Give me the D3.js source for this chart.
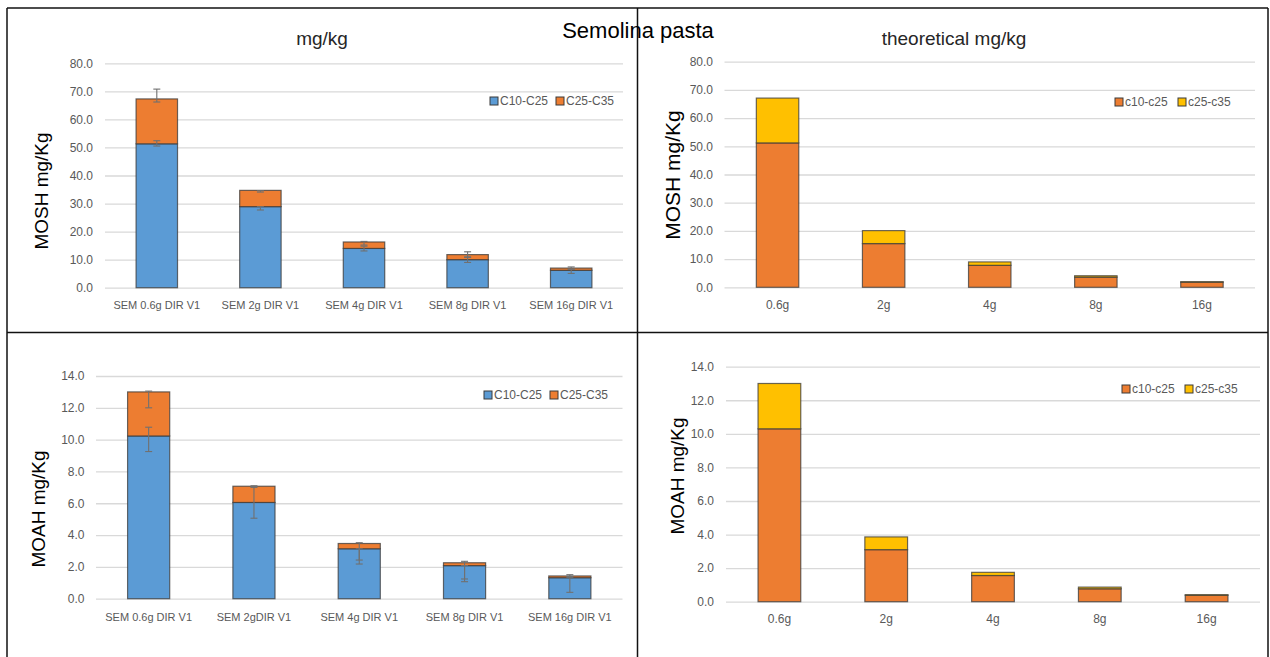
<!DOCTYPE html>
<html>
<head>
<meta charset="utf-8">
<script src="https://cdn.jsdelivr.net/npm/d3@7/dist/d3.min.js"></script>
<style>
  html, body { margin: 0; padding: 0; background: #fff; }
  svg { display: block; font-family: "Liberation Sans", Arial, sans-serif; }
</style>
</head>
<body>
<svg id="chart" width="1270" height="657"></svg>
<script>
// ---- Data -------------------------------------------------------------
const measuredMoshCategories = ["SEM 0.6g DIR V1", "SEM 2g DIR V1", "SEM 4g DIR V1", "SEM 8g DIR V1", "SEM 16g DIR V1"];
const measuredMoahCategories = ["SEM 0.6g DIR V1", "SEM 2gDIR V1", "SEM 4g DIR V1", "SEM 8g DIR V1", "SEM 16g DIR V1"];
const doseCategories = ["0.6g", "2g", "4g", "8g", "16g"];

const measuredSeries = ["C10-C25", "C25-C35"];
const theoreticalSeries = ["c10-c25", "c25-c35"];

// MOSH, measured (mg/kg)
const moshC10C25 = [51.3, 28.9, 14.0, 10.0, 6.2];
const moshC25C35 = [16.0, 5.8, 2.3, 1.8, 0.8];
// error whiskers [low, high] in mg/kg
const moshErrUpper = [[66.2, 70.8], [34.1, 34.6], [15.2, 16.5], [10.8, 12.8], [6.6, 7.4]];
const moshErrLower = [[50.5, 52.4], [27.7, 28.9], [13.1, 14.8], [9.0, 11.0], [5.1, 6.6]];

// MOSH, theoretical (mg/kg)
const moshTheoC10C25 = [51.2, 15.5, 7.8, 3.6, 1.8];
const moshTheoC25C35 = [15.9, 4.6, 1.2, 0.5, 0.2];

// MOAH, measured (mg/kg)
const moahC10C25 = [10.23, 6.05, 3.14, 2.08, 1.32];
const moahC25C35 = [2.77, 1.02, 0.33, 0.18, 0.11];
const moahErrUpper = [[12.0, 13.05], [7.0, 7.1], [2.43, 3.52], [1.24, 2.35], [1.40, 1.51]];
const moahErrLower = [[9.25, 10.78], [5.06, 7.05], [2.18, 3.14], [1.07, 2.08], [0.40, 1.32]];

// MOAH, theoretical (mg/kg)
const moahTheoC10C25 = [10.3, 3.1, 1.56, 0.77, 0.38];
const moahTheoC25C35 = [2.7, 0.76, 0.19, 0.1, 0.04];

const mainTitle = "Semolina pasta";

// ---- Styling ----------------------------------------------------------
const BLUE = "#5B9BD5", ORANGE = "#ED7D31", YELLOW = "#FFC000";
const GRID = "#d9d9d9", TICK_TEXT = "#595959";

const svg = d3.select("#chart");

// panel frame lines
const frame = svg.append("g").attr("stroke", "#111").attr("fill", "none").attr("stroke-width", 1.5);
frame.append("line").attr("x1", 7).attr("x2", 1268).attr("y1", 8).attr("y2", 8);
frame.append("line").attr("x1", 7).attr("x2", 7).attr("y1", 8).attr("y2", 657);
frame.append("line").attr("x1", 1268).attr("x2", 1268).attr("y1", 8).attr("y2", 657);
frame.append("line").attr("x1", 637.5).attr("x2", 637.5).attr("y1", 8).attr("y2", 657);
frame.append("line").attr("x1", 7).attr("x2", 1268).attr("y1", 332.5).attr("y2", 332.5);

function drawPanel(cfg) {
  const g = svg.append("g");
  const x = d3.scaleBand().domain(cfg.categories).range(cfg.xRange).paddingInner(0.6).paddingOuter(0.3);
  const y = d3.scaleLinear().domain(cfg.yDomain).range(cfg.yRange);
  const ticks = d3.range(cfg.yDomain[0], cfg.yDomain[1] + cfg.step / 2, cfg.step);

  // horizontal gridlines via axis
  const gridAxis = d3.axisLeft(y).tickValues(ticks).tickSize(-(cfg.xRange[1] - cfg.xRange[0])).tickFormat("");
  const gg = g.append("g").attr("transform", `translate(${cfg.xRange[0]},0)`).call(gridAxis);
  gg.select(".domain").remove();
  gg.selectAll("line").attr("stroke", GRID).attr("stroke-width", 1.3);

  // y tick labels
  const yAxis = d3.axisLeft(y).tickValues(ticks).tickSize(0).tickPadding(0).tickFormat(d3.format(".1f"));
  const ya = g.append("g").attr("transform", `translate(${cfg.tickRight},0)`).call(yAxis);
  ya.select(".domain").remove();
  ya.selectAll("text").attr("font-size", cfg.tickSize).attr("fill", TICK_TEXT)
    .attr("font-family", '"Liberation Sans", Arial, sans-serif');

  // x category labels
  const xAxis = d3.axisBottom(x).tickSize(0).tickPadding(0);
  const xa = g.append("g").attr("transform", `translate(0,${cfg.catY})`).call(xAxis);
  xa.select(".domain").remove();
  xa.selectAll("text").attr("font-size", cfg.catSize).attr("fill", TICK_TEXT)
    .attr("font-family", '"Liberation Sans", Arial, sans-serif').attr("dy", "0.35em");

  // stacked bars
  const rows = cfg.categories.map((c, i) => ({ cat: c, s0: cfg.values[0][i], s1: cfg.values[1][i] }));
  const stack = d3.stack().keys(["s0", "s1"])(rows);
  stack.forEach((layer, li) => {
    g.append("g").selectAll("rect").data(layer).join("rect")
      .attr("x", d => x(d.data.cat))
      .attr("width", x.bandwidth())
      .attr("y", d => y(d[1]))
      .attr("height", d => y(d[0]) - y(d[1]))
      .attr("fill", cfg.colors[li])
      .attr("stroke", "#3a3a3a").attr("stroke-opacity", 0.75).attr("stroke-width", 1.2);
  });

  // error whiskers
  if (cfg.errors) {
    const eg = g.append("g").attr("stroke", "#707070").attr("stroke-width", 1.1).attr("fill", "none");
    cfg.errors.forEach(errs => {
      errs.forEach((e, i) => {
        const cx = x(cfg.categories[i]) + x.bandwidth() / 2;
        eg.append("line").attr("x1", cx).attr("x2", cx).attr("y1", y(e[0])).attr("y2", y(e[1]));
        [e[0], e[1]].forEach(v => {
          eg.append("line").attr("x1", cx - 3.5).attr("x2", cx + 3.5).attr("y1", y(v)).attr("y2", y(v));
        });
      });
    });
  }

  // chart title
  if (cfg.title) {
    g.append("text").attr("x", cfg.titleX).attr("y", cfg.titleY).attr("text-anchor", "middle")
      .attr("font-size", 19).attr("fill", "#262626").text(cfg.title);
  }

  // y axis title
  g.append("text").attr("transform", `translate(${cfg.yTitleX},${cfg.yTitleY}) rotate(-90)`)
    .attr("text-anchor", "middle").attr("font-size", cfg.yTitleSize).attr("fill", "#000")
    .text(cfg.yTitle);

  // legend
  const lg = g.append("g").attr("transform", `translate(0,${cfg.legendY})`);
  cfg.series.forEach((name, i) => {
    const lx = cfg.legendX[i];
    lg.append("rect").attr("x", lx).attr("y", -4).attr("width", 8).attr("height", 8)
      .attr("fill", cfg.colors[i]).attr("stroke", "#3a3a3a").attr("stroke-width", 1);
    lg.append("text").attr("x", lx + 10).attr("y", 0).attr("dy", "0.35em")
      .attr("font-size", 12).attr("fill", TICK_TEXT).text(name);
  });
}

// top-left: MOSH measured
drawPanel({
  categories: measuredMoshCategories, values: [moshC10C25, moshC25C35], colors: [BLUE, ORANGE],
  series: measuredSeries, errors: [moshErrUpper, moshErrLower],
  xRange: [105, 623], yDomain: [0, 80], yRange: [287.7, 63.3], step: 10,
  tickRight: 93, tickSize: 12, catY: 305, catSize: 11,
  title: "mg/kg", titleX: 322, titleY: 45,
  yTitle: "MOSH mg/Kg", yTitleX: 48, yTitleY: 191, yTitleSize: 19,
  legendX: [490, 556], legendY: 101
});

// top-right: MOSH theoretical
drawPanel({
  categories: doseCategories, values: [moshTheoC10C25, moshTheoC25C35], colors: [ORANGE, YELLOW],
  series: theoreticalSeries,
  xRange: [724.5, 1255], yDomain: [0, 80], yRange: [287.3, 61.7], step: 10,
  tickRight: 713, tickSize: 12, catY: 305, catSize: 12,
  title: "theoretical mg/kg", titleX: 954, titleY: 45,
  yTitle: "MOSH mg/Kg", yTitleX: 680, yTitleY: 175, yTitleSize: 21,
  legendX: [1115, 1178], legendY: 102
});

// bottom-left: MOAH measured
drawPanel({
  categories: measuredMoahCategories, values: [moahC10C25, moahC25C35], colors: [BLUE, ORANGE],
  series: measuredSeries, errors: [moahErrUpper, moahErrLower],
  xRange: [96, 622.5], yDomain: [0, 14], yRange: [598.7, 376], step: 2,
  tickRight: 84.5, tickSize: 12, catY: 617, catSize: 11,
  yTitle: "MOAH mg/Kg", yTitleX: 45, yTitleY: 509, yTitleSize: 19,
  legendX: [484, 550], legendY: 395
});

// bottom-right: MOAH theoretical
drawPanel({
  categories: doseCategories, values: [moahTheoC10C25, moahTheoC25C35], colors: [ORANGE, YELLOW],
  series: theoreticalSeries,
  xRange: [726, 1260], yDomain: [0, 14], yRange: [601.7, 366.7], step: 2,
  tickRight: 714, tickSize: 12, catY: 619, catSize: 12,
  yTitle: "MOAH mg/Kg", yTitleX: 684, yTitleY: 476, yTitleSize: 19,
  legendX: [1122, 1185], legendY: 389
});

// overall title
svg.append("text").attr("x", 638).attr("y", 38).attr("text-anchor", "middle")
  .attr("font-size", 22).attr("fill", "#000").text(mainTitle);
</script>
</body>
</html>
